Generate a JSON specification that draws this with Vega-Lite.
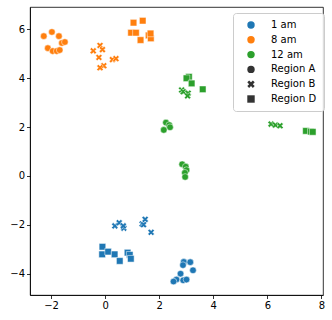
{
  "$schema": "https://vega.github.io/schema/vega-lite/v6.json",
  "autosize": "none",
  "width": 293,
  "height": 288,
  "padding": {"left": 30, "top": 7, "right": 9, "bottom": 25},
  "background": "white",
  "config": {
    "view": {"stroke": "black", "strokeWidth": 0.8},
    "axis": {
      "grid": false, "title": null, "domainColor": "black", "domainWidth": 0.8,
      "tickColor": "black", "tickWidth": 0.8, "tickSize": 3.5, "labelColor": "black",
      "labelFont": "DejaVu Sans", "labelFontSize": 10, "labelPadding": 2
    }
  },
  "data": {"values": [
    {"time": "8 am", "region": "Region A", "x": -2.27, "y": 5.71},
    {"time": "8 am", "region": "Region A", "x": -1.97, "y": 5.88},
    {"time": "8 am", "region": "Region A", "x": -1.71, "y": 5.71},
    {"time": "8 am", "region": "Region A", "x": -1.60, "y": 5.43},
    {"time": "8 am", "region": "Region A", "x": -1.49, "y": 5.47},
    {"time": "8 am", "region": "Region A", "x": -2.12, "y": 5.22},
    {"time": "8 am", "region": "Region A", "x": -1.94, "y": 5.10},
    {"time": "8 am", "region": "Region A", "x": -1.79, "y": 5.10},
    {"time": "8 am", "region": "Region A", "x": -1.68, "y": 5.14},
    {"time": "8 am", "region": "Region B", "x": -0.44, "y": 5.11},
    {"time": "8 am", "region": "Region B", "x": -0.19, "y": 5.33},
    {"time": "8 am", "region": "Region B", "x": -0.10, "y": 5.16},
    {"time": "8 am", "region": "Region B", "x": -0.23, "y": 4.84},
    {"time": "8 am", "region": "Region B", "x": -0.05, "y": 4.50},
    {"time": "8 am", "region": "Region B", "x": -0.19, "y": 4.42},
    {"time": "8 am", "region": "Region B", "x": 0.27, "y": 4.75},
    {"time": "8 am", "region": "Region B", "x": 0.40, "y": 4.79},
    {"time": "8 am", "region": "Region D", "x": 1.05, "y": 6.26},
    {"time": "8 am", "region": "Region D", "x": 1.39, "y": 6.34},
    {"time": "8 am", "region": "Region D", "x": 0.96, "y": 5.85},
    {"time": "8 am", "region": "Region D", "x": 1.14, "y": 5.85},
    {"time": "8 am", "region": "Region D", "x": 1.31, "y": 5.55},
    {"time": "8 am", "region": "Region D", "x": 1.61, "y": 5.74},
    {"time": "8 am", "region": "Region D", "x": 1.69, "y": 5.62},
    {"time": "8 am", "region": "Region D", "x": 1.68, "y": 5.82},
    {"time": "1 am", "region": "Region A", "x": 2.91, "y": -3.51},
    {"time": "1 am", "region": "Region A", "x": 3.15, "y": -3.52},
    {"time": "1 am", "region": "Region A", "x": 2.88, "y": -3.64},
    {"time": "1 am", "region": "Region A", "x": 3.25, "y": -3.85},
    {"time": "1 am", "region": "Region A", "x": 2.79, "y": -3.99},
    {"time": "1 am", "region": "Region A", "x": 2.64, "y": -4.23},
    {"time": "1 am", "region": "Region A", "x": 2.53, "y": -4.31},
    {"time": "1 am", "region": "Region A", "x": 2.89, "y": -4.26},
    {"time": "1 am", "region": "Region A", "x": 3.01, "y": -4.23},
    {"time": "1 am", "region": "Region B", "x": 0.36, "y": -2.04},
    {"time": "1 am", "region": "Region B", "x": 0.52, "y": -1.91},
    {"time": "1 am", "region": "Region B", "x": 0.69, "y": -2.13},
    {"time": "1 am", "region": "Region B", "x": 0.67, "y": -2.04},
    {"time": "1 am", "region": "Region B", "x": 1.37, "y": -1.96},
    {"time": "1 am", "region": "Region B", "x": 1.48, "y": -1.77},
    {"time": "1 am", "region": "Region B", "x": 1.70, "y": -2.30},
    {"time": "1 am", "region": "Region B", "x": 1.42, "y": -1.99},
    {"time": "1 am", "region": "Region D", "x": -0.10, "y": -2.89},
    {"time": "1 am", "region": "Region D", "x": -0.11, "y": -3.20},
    {"time": "1 am", "region": "Region D", "x": 0.11, "y": -3.09},
    {"time": "1 am", "region": "Region D", "x": 0.35, "y": -3.20},
    {"time": "1 am", "region": "Region D", "x": 0.54, "y": -3.47},
    {"time": "1 am", "region": "Region D", "x": 0.83, "y": -3.13},
    {"time": "1 am", "region": "Region D", "x": 0.91, "y": -3.22},
    {"time": "1 am", "region": "Region D", "x": 0.95, "y": -3.38},
    {"time": "12 am", "region": "Region A", "x": 2.25, "y": 2.18},
    {"time": "12 am", "region": "Region A", "x": 2.37, "y": 2.08},
    {"time": "12 am", "region": "Region A", "x": 2.40, "y": 1.99},
    {"time": "12 am", "region": "Region A", "x": 2.17, "y": 1.88},
    {"time": "12 am", "region": "Region A", "x": 2.85, "y": 0.48},
    {"time": "12 am", "region": "Region A", "x": 2.98, "y": 0.38},
    {"time": "12 am", "region": "Region A", "x": 3.01, "y": 0.24},
    {"time": "12 am", "region": "Region A", "x": 2.95, "y": 0.13},
    {"time": "12 am", "region": "Region A", "x": 2.96, "y": -0.04},
    {"time": "12 am", "region": "Region B", "x": 2.83, "y": 3.51},
    {"time": "12 am", "region": "Region B", "x": 2.89, "y": 3.44},
    {"time": "12 am", "region": "Region B", "x": 3.07, "y": 3.38},
    {"time": "12 am", "region": "Region B", "x": 3.05, "y": 3.27},
    {"time": "12 am", "region": "Region B", "x": 6.14, "y": 2.12},
    {"time": "12 am", "region": "Region B", "x": 6.30, "y": 2.08},
    {"time": "12 am", "region": "Region B", "x": 6.47, "y": 2.05},
    {"time": "12 am", "region": "Region D", "x": 3.10, "y": 4.05},
    {"time": "12 am", "region": "Region D", "x": 3.01, "y": 3.99},
    {"time": "12 am", "region": "Region D", "x": 3.20, "y": 3.78},
    {"time": "12 am", "region": "Region D", "x": 3.61, "y": 3.54},
    {"time": "12 am", "region": "Region D", "x": 7.43, "y": 1.84},
    {"time": "12 am", "region": "Region D", "x": 7.61, "y": 1.81},
    {"time": "12 am", "region": "Region D", "x": 7.68, "y": 1.80}
  ]},
  "mark": {"type": "point", "filled": true, "opacity": 1, "size": 44, "stroke": "white", "strokeWidth": 0.5},
  "encoding": {
    "x": {"field": "x", "type": "quantitative", "scale": {"domain": [-2.78, 8.06], "nice": false, "zero": false},
      "axis": {"values": [-2, 0, 2, 4, 6, 8]}},
    "y": {"field": "y", "type": "quantitative", "scale": {"domain": [-4.86, 6.9], "nice": false, "zero": false},
      "axis": {"values": [-4, -2, 0, 2, 4, 6]}},
    "color": {"field": "time", "type": "nominal",
      "scale": {"domain": ["1 am", "8 am", "12 am", "Region A", "Region B", "Region D"],
        "range": ["#1f77b4", "#ff7f0e", "#2ca02c", "#333333", "#333333", "#333333"]},
      "legend": {
        "title": null, "orient": "none", "legendX": 203, "legendY": 6,
        "fillColor": "rgba(255,255,255,0.8)", "strokeColor": "#cccccc", "cornerRadius": 3,
        "padding": 7, "symbolOffset": 6, "labelOffset": 15, "rowPadding": 4.8,
        "labelFont": "DejaVu Sans", "labelFontSize": 10, "labelColor": "black",
        "symbolSize": 55, "symbolStrokeWidth": 0,
        "symbolType": {"expr": "datum.value === 'Region B' ? 'M-1,-0.5L-0.5,-1L0,-0.5L0.5,-1L1,-0.5L0.5,0L1,0.5L0.5,1L0,0.5L-0.5,1L-1,0.5L-0.5,0Z' : datum.value === 'Region D' ? 'square' : 'circle'"}
      }},
    "shape": {"field": "region", "type": "nominal",
      "scale": {"domain": ["Region A", "Region B", "Region D"],
        "range": ["circle", "M-1,-0.5L-0.5,-1L0,-0.5L0.5,-1L1,-0.5L0.5,0L1,0.5L0.5,1L0,0.5L-0.5,1L-1,0.5L-0.5,0Z", "square"]},
      "legend": null}
  }
}
